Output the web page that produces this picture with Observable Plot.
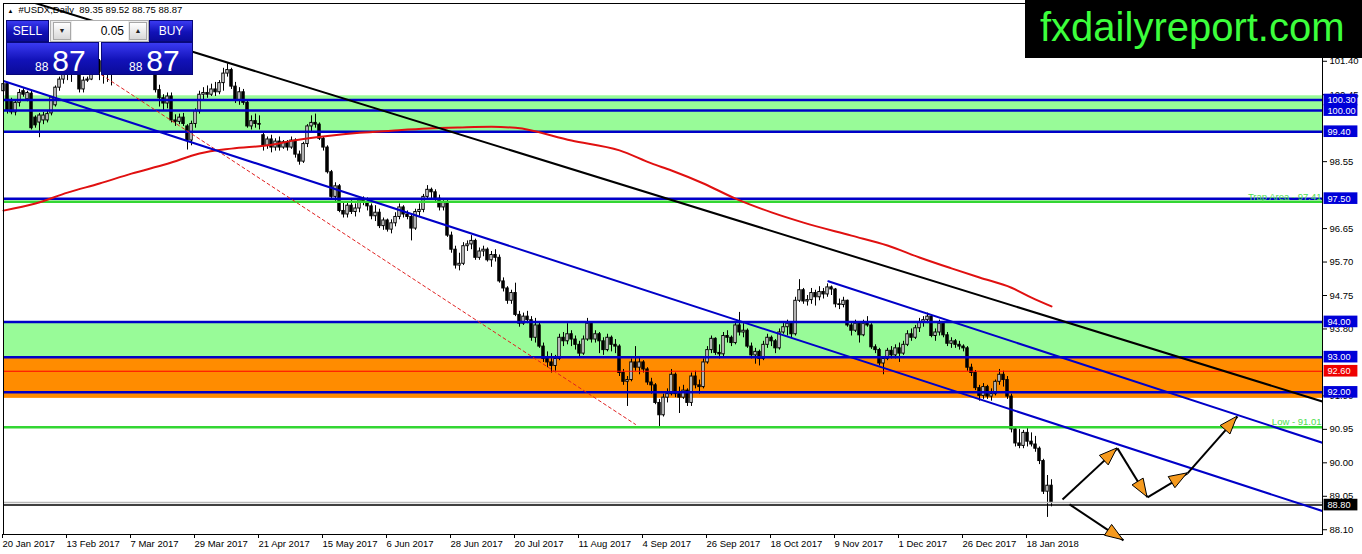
<!DOCTYPE html>
<html>
<head>
<meta charset="utf-8">
<script src="https://cdn.jsdelivr.net/npm/d3@7"></script>
<script src="https://cdn.jsdelivr.net/npm/@observablehq/plot@0.6"></script>
<style>
  body { margin: 0; background: #fff; }
  #wrap { position: relative; width: 1362px; height: 554px; overflow: hidden; font-family: "Liberation Sans", Arial, sans-serif; }
  .abs { position: absolute; box-sizing: border-box; }
  .blue { background: linear-gradient(#3a3af2, #1212b8 55%, #0a0a9a); color: #fff; border: 1px solid #08087a; }
  .btn { font-size: 12px; line-height: 20px; text-align: center; }
  .grey { background: linear-gradient(#ffffff, #d8d8d8); border: 1px solid #a8a8a8; font-size: 7px; line-height: 16px; text-align: center; color: #222; }
  .price { white-space: nowrap; line-height: 1; }
  .price .s { font-size: 12px; }
  .price .b { font-size: 30px; margin-left: 4px; }
  #logo { left: 1025px; top: 0; width: 337px; height: 58px; background: #000; color: #3cff3c; font-size: 40px; line-height: 54px; padding-left: 15px; }
</style>
</head>
<body>
<div id="wrap">
  <div id="chart"></div>
  <div class="abs blue btn" style="left:6px;top:20px;width:43px;height:22px;">SELL</div>
  <div class="abs" style="left:50px;top:20px;width:99px;height:22px;background:#ececec;border:1px solid #b0b0b0;"></div>
  <div class="abs grey" style="left:53px;top:22px;width:18px;height:18px;">&#9660;</div>
  <div class="abs" style="left:72px;top:21px;width:56px;height:20px;background:#fff;font-size:12px;line-height:20px;text-align:right;padding-right:4px;color:#000;">0.05</div>
  <div class="abs grey" style="left:129px;top:22px;width:18px;height:18px;">&#9650;</div>
  <div class="abs blue btn" style="left:149px;top:20px;width:44px;height:22px;">BUY</div>
  <div class="abs blue" style="left:6px;top:42px;width:93px;height:33px;">
    <div class="abs price" style="left:28px;bottom:-2px;"><span class="s">88</span><span class="b">87</span></div>
  </div>
  <div class="abs blue" style="left:101px;top:42px;width:92px;height:33px;">
    <div class="abs price" style="left:27px;bottom:-2px;"><span class="s">88</span><span class="b">87</span></div>
  </div>
  <div id="logo" class="abs">fxdailyreport.com</div>
</div>
<script>
// daily #USDX bars, index 0 = 20 Jan 2017 ... 262 = 26 Jan 2018 (weekends/holidays skipped)
const open = [
  100.55,100.75,100.25,99.95,100.22,100.55,100.32,100.48,99.80,99.66,
  99.72,99.72,99.92,100.15,100.65,100.88,101.05,101.20,101.25,101.28,
  100.60,100.85,100.88,101.45,101.40,101.10,101.12,101.15,101.10,101.75,
  101.85,101.35,101.75,101.95,102.05,102.15,101.30,101.35,101.70,100.58,
  100.35,100.20,100.40,99.72,99.68,99.80,99.55,99.15,99.62,99.98,
  100.45,100.50,100.45,100.60,100.52,100.78,101.05,101.15,100.68,100.28,
  100.52,100.22,99.55,99.70,99.62,99.30,99.00,99.18,98.95,99.12,
  98.95,99.10,98.95,99.15,98.75,98.55,99.05,99.55,99.65,99.60,
  99.20,98.95,98.25,97.55,97.85,97.15,97.05,97.30,97.12,97.22,
  97.45,97.40,97.28,97.00,97.10,96.72,96.88,96.62,96.80,96.98,
  97.25,97.05,96.98,96.65,97.12,97.18,97.55,97.75,97.68,97.50,
  97.25,97.38,96.45,96.05,95.60,95.65,96.15,96.20,96.30,95.82,
  96.00,96.05,95.75,95.90,95.82,95.15,94.95,94.60,94.82,94.20,
  93.95,94.15,94.05,93.55,93.90,93.30,92.95,92.85,92.75,92.95,
  93.55,93.45,93.65,93.50,93.35,93.10,93.50,93.95,93.50,93.65,
  93.45,93.20,93.55,93.35,93.30,92.55,92.30,92.35,92.85,92.70,
  92.85,92.65,92.28,92.20,91.70,91.35,91.85,91.95,92.50,91.95,
  91.85,92.05,91.70,92.45,92.20,92.15,92.85,93.20,93.52,93.12,
  93.08,93.60,93.55,93.40,93.90,93.70,93.75,93.30,93.05,93.15,
  92.95,93.35,93.55,93.45,93.25,93.70,93.85,93.95,93.65,94.60,
  94.90,94.58,94.62,94.82,94.70,94.85,94.78,94.98,94.92,94.50,
  94.48,94.60,93.90,93.75,93.95,93.62,93.95,93.90,93.28,93.20,
  92.82,92.95,93.18,93.05,93.25,93.10,93.35,93.65,93.55,93.82,
  93.98,94.05,94.15,93.60,93.70,93.95,93.62,93.38,93.45,93.35,
  93.30,93.25,92.70,92.55,92.12,91.90,92.15,91.88,91.95,92.30,
  92.50,92.35,91.88,90.95,90.55,90.48,90.85,90.60,90.52,90.40,
  90.05,89.18,89.35
];
const high = [
  100.95,100.80,100.35,100.30,100.60,100.62,100.55,100.55,99.85,99.92,
  99.95,100.00,100.40,100.70,100.95,101.15,101.30,101.45,101.75,101.32,
  100.95,100.95,101.55,101.75,101.45,101.25,101.30,101.35,101.85,102.25,
  102.05,101.80,102.00,102.25,102.25,102.20,101.45,101.75,101.75,100.72,
  100.45,100.50,100.50,99.88,99.90,99.92,99.60,99.70,100.05,100.55,
  100.65,100.70,100.75,100.80,100.85,101.20,101.33,101.20,100.80,100.65,
  100.60,100.30,99.85,99.90,99.85,99.35,99.25,99.30,99.20,99.25,
  99.15,99.15,99.25,99.20,98.85,99.10,99.60,99.85,99.90,99.65,
  99.25,99.00,98.30,97.95,97.90,97.40,97.40,97.45,97.35,97.55,
  97.55,97.52,97.35,97.30,97.20,96.95,96.92,96.90,97.10,97.35,
  97.30,97.15,97.05,97.20,97.35,97.62,97.87,97.80,97.75,97.60,
  97.50,97.45,96.55,96.15,95.95,96.25,96.30,96.45,96.35,96.10,
  96.15,96.10,96.00,96.05,95.90,95.25,95.00,94.90,95.10,94.30,
  94.25,94.30,94.15,94.10,94.00,93.40,93.15,93.10,93.05,93.65,
  93.70,93.95,93.75,93.60,93.45,93.60,94.10,94.00,93.75,93.70,
  93.55,93.65,93.60,93.50,93.35,92.65,92.45,92.95,93.30,93.00,
  92.90,92.70,92.40,92.25,91.80,91.95,92.10,92.65,92.55,92.15,
  92.20,92.10,92.55,92.60,92.35,92.95,93.30,93.60,93.55,93.35,
  93.70,93.75,93.60,94.00,94.27,93.95,93.80,93.40,93.25,93.20,
  93.45,93.65,93.60,93.50,93.80,94.00,94.05,94.00,94.70,95.20,
  94.95,94.75,94.95,94.90,95.00,94.95,95.08,95.02,94.95,94.65,
  94.70,94.62,94.00,94.05,93.98,94.05,94.15,93.95,93.35,93.25,
  93.00,93.25,93.30,93.35,93.40,93.45,93.75,93.80,93.90,94.10,
  94.15,94.25,94.20,93.80,94.05,94.00,93.70,93.55,93.50,93.45,
  93.35,93.30,92.80,92.62,92.20,92.25,92.20,92.10,92.35,92.65,
  92.60,92.45,91.95,91.00,90.95,90.92,91.02,90.85,90.75,90.45,
  90.10,89.64,89.52
];
const low = [
  100.40,99.90,99.88,99.85,100.10,100.38,100.25,99.45,99.50,99.23,
  99.60,99.65,99.85,100.10,100.55,100.75,100.85,100.80,101.10,100.50,
  100.50,100.80,100.85,101.20,100.85,100.75,100.80,100.70,101.05,101.60,
  101.30,101.20,101.55,101.85,101.90,101.20,101.05,101.25,100.50,100.10,
  100.00,100.05,99.65,99.55,99.60,99.55,98.88,99.00,99.50,99.90,
  100.30,100.35,100.40,100.40,100.45,100.55,100.95,100.60,100.20,100.15,
  100.15,99.50,99.45,99.50,99.45,98.85,98.90,98.80,98.85,98.85,
  98.90,98.85,98.90,98.65,98.45,98.50,98.95,99.40,99.50,99.15,
  98.85,98.20,97.50,97.40,97.10,96.95,96.95,97.05,96.98,97.10,
  97.30,97.15,96.90,96.85,96.65,96.60,96.55,96.50,96.70,96.90,
  96.95,96.90,96.30,96.60,97.00,97.10,97.45,97.50,97.40,97.15,
  97.15,96.40,95.95,95.50,95.45,95.60,96.00,96.05,95.75,95.75,
  95.85,95.70,95.55,95.70,95.10,94.85,94.50,94.50,94.15,93.85,
  93.90,93.95,93.45,93.40,93.25,92.85,92.70,92.55,92.60,92.90,
  93.30,93.35,93.30,93.20,93.00,93.05,93.45,93.40,93.40,93.10,
  93.05,93.15,93.15,93.10,92.45,92.20,91.60,92.30,92.60,92.50,
  92.55,92.20,91.95,91.65,91.01,91.30,91.70,91.90,91.85,91.40,
  91.80,91.60,91.60,92.10,91.95,92.10,92.80,93.10,93.05,92.95,
  93.00,93.40,93.30,93.35,93.60,93.55,93.25,92.95,92.80,92.75,
  92.90,93.25,93.30,93.10,93.20,93.65,93.60,93.55,93.60,94.55,
  94.50,94.45,94.50,94.45,94.60,94.65,94.70,94.75,94.40,94.35,
  94.40,93.85,93.60,93.70,93.40,93.58,93.85,93.22,93.10,92.75,
  92.50,92.90,92.95,92.95,92.85,93.05,93.30,93.45,93.50,93.70,
  93.85,93.95,93.55,93.45,93.60,93.55,93.30,93.25,93.25,93.20,
  93.15,92.60,92.45,92.05,91.75,91.80,91.80,91.75,91.90,92.20,
  92.15,91.80,90.85,90.45,90.40,90.40,90.45,90.45,90.30,89.95,
  89.10,88.45,88.75
];
const close = [
  100.75,100.00,99.95,100.22,100.50,100.45,100.50,99.50,99.58,99.86,
  99.86,99.90,100.37,100.65,100.88,101.05,101.20,101.25,101.28,100.60,
  100.85,100.88,101.45,101.40,101.10,101.12,101.15,101.10,101.75,101.85,
  101.35,101.75,101.95,102.05,102.15,101.30,101.35,101.70,100.58,100.35,
  100.20,100.40,99.72,99.68,99.80,99.62,99.15,99.62,99.98,100.45,
  100.50,100.45,100.60,100.52,100.78,101.05,101.15,100.68,100.28,100.52,
  100.22,99.55,99.70,99.62,99.60,99.00,99.18,98.95,99.12,98.95,
  99.10,98.95,99.15,98.75,98.55,99.05,99.55,99.65,99.60,99.20,
  98.95,98.25,97.55,97.85,97.15,97.05,97.30,97.12,97.22,97.45,
  97.40,97.28,97.00,97.10,96.72,96.88,96.62,96.80,96.98,97.25,
  97.05,96.98,96.65,97.12,97.18,97.55,97.75,97.68,97.50,97.25,
  97.38,96.45,96.05,95.60,95.65,96.15,96.20,96.30,95.82,96.00,
  96.05,95.75,95.90,95.82,95.15,94.95,94.60,94.82,94.20,93.95,
  94.15,94.05,93.55,93.90,93.30,92.95,92.85,92.75,92.95,93.55,
  93.45,93.65,93.50,93.35,93.10,93.50,93.95,93.50,93.65,93.45,
  93.20,93.55,93.35,93.30,92.55,92.30,92.35,92.85,92.70,92.85,
  92.65,92.28,92.20,91.70,91.35,91.85,91.95,92.50,91.95,91.85,
  92.05,91.70,92.45,92.20,92.15,92.85,93.20,93.52,93.12,93.08,
  93.60,93.55,93.40,93.90,93.70,93.75,93.30,93.05,93.15,92.95,
  93.35,93.55,93.45,93.25,93.70,93.85,93.95,93.65,94.60,94.90,
  94.58,94.62,94.82,94.70,94.85,94.78,94.98,94.92,94.50,94.48,
  94.60,93.90,93.75,93.95,93.62,93.95,93.90,93.28,93.20,92.82,
  92.95,93.18,93.05,93.25,93.10,93.35,93.65,93.55,93.82,93.98,
  94.05,94.15,93.60,93.70,93.95,93.62,93.38,93.45,93.35,93.30,
  93.25,92.70,92.55,92.12,91.90,92.15,91.88,91.95,92.30,92.50,
  92.35,91.88,90.95,90.55,90.48,90.85,90.60,90.52,90.40,90.05,
  89.18,89.35,88.87
];

// time axis labels (bar index of each label)
const xTickIdx = [0, 16, 32, 48, 64, 80, 96, 112, 128, 144, 160, 176, 192, 208, 224, 240, 256];
const xTickLabels = ["20 Jan 2017", "13 Feb 2017", "7 Mar 2017", "29 Mar 2017", "21 Apr 2017", "15 May 2017",
  "6 Jun 2017", "28 Jun 2017", "20 Jul 2017", "11 Aug 2017", "4 Sep 2017", "26 Sep 2017", "18 Oct 2017",
  "9 Nov 2017", "1 Dec 2017", "26 Dec 2017", "18 Jan 2018"];
// price ticks that stay visible (the others sit under the level tags or the logo)
const yTicks = [101.40, 100.45, 98.55, 96.65, 95.70, 94.75, 93.80, 91.90, 90.95, 90.00, 89.05, 88.10];

// moving average
const maIdx = [0, 8, 16, 24, 32, 41, 49, 57, 67, 72, 81, 89, 97, 106, 114, 122, 128, 142, 154, 162, 167, 175, 183, 192, 200, 212, 221, 229, 237, 244, 252, 257, 262];
const maVal = [97.16, 97.36, 97.67, 97.93, 98.21, 98.49, 98.78, 98.92, 99.03, 99.14, 99.28, 99.37, 99.43, 99.49, 99.52, 99.54, 99.51, 99.15, 98.87, 98.50, 98.30, 97.93, 97.50, 97.11, 96.82, 96.45, 96.17, 95.83, 95.52, 95.26, 94.97, 94.69, 94.44];

// drawn objects
const greenZones = [[99.35, 100.42], [93.00, 94.00]];
const orangeZones = [[91.83, 93.00]];
const blueLevels = [100.30, 100.00, 99.40, 97.50, 94.00, 93.00, 92.00];
const greenLevels = [97.41, 91.01];
const greenTexts = ["Trap Area - 97.41", "Low - 91.01"];
const redLevel = [92.60];
const bidLevel = [88.87];
const markLevel = [88.80];
const blackTrend = [[6, 103.12], [329.75, 91.74]];
const blueTrend = [[0, 100.84], [329.75, 88.63]];
const blueTrend2 = [[206.2, 95.155], [329.75, 90.57]];
const redDashed = [[22, 101.20], [158, 91.09]];
const arrowPath = [[264.75, 88.96], [278.5, 90.41], [286, 89.02], [296, 89.70], [308.5, 91.31]];
const arrowDown = [[266.5, 88.82], [280, 87.80]];
const tagPrices = [100.30, 100.00, 99.40, 97.50, 94.00, 93.00, 92.60, 92.00, 88.80];
const tagColors = ["#0000d8", "#0000d8", "#0000d8", "#0000d8", "#0000d8", "#0000d8", "#ee0000", "#0000d8", "#000000"];
const header = "#USDX,Daily  89.35 89.52 88.75 88.87";

const bars = close.map((c, i) => ({i, open: open[i], high: high[i], low: low[i], close: c}));
const ma = maIdx.map((i, k) => ({i, p: maVal[k]}));
const arrows = arrowPath.slice(1).map((p, k) => ({a: arrowPath[k], b: p})).concat([{a: arrowDown[0], b: arrowDown[1]}]);
const tags = tagPrices.map((p, k) => ({p, c: tagColors[k]}));
const gTexts = greenLevels.map((p, k) => ({p, t: greenTexts[k]}));
const xr = 329.75;
const halfTag = 0.165;

const chart = Plot.plot({
  width: 1362,
  height: 554,
  marginLeft: 3,
  marginRight: 40,
  marginTop: 3,
  marginBottom: 20,
  x: {domain: [0, xr], axis: null},
  y: {domain: [87.965, 103.04], axis: null},
  color: {type: "identity"},
  style: {fontFamily: "Liberation Sans, Arial, sans-serif", fontSize: "9.5px", color: "black", background: "white", overflow: "visible"},
  marks: [
    Plot.rect(greenZones, {x1: 0, x2: xr, y1: d => d[0], y2: d => d[1], fill: "#98fb98"}),
    Plot.rect(orangeZones, {x1: 0, x2: xr, y1: d => d[0], y2: d => d[1], fill: "#ff8c00"}),
    Plot.ruleX(bars, {x: "i", y1: "low", y2: "high", stroke: "black", strokeWidth: 1}),
    Plot.rect(bars, {filter: d => d.close >= d.open, x1: d => d.i - 0.3, x2: d => d.i + 0.3, y1: "open", y2: "close", fill: "white", stroke: "black", strokeWidth: 1}),
    Plot.rect(bars, {filter: d => d.close < d.open, x1: d => d.i - 0.3, x2: d => d.i + 0.3, y1: "open", y2: "close", fill: "black", stroke: "black", strokeWidth: 1}),
    Plot.ruleY(greenLevels, {stroke: "#33d633", strokeWidth: 2.5}),
    Plot.ruleY(redLevel, {stroke: "#ff0000", strokeWidth: 1}),
    Plot.ruleY(bidLevel, {stroke: "#b8b8b8", strokeWidth: 1.5}),
    Plot.ruleY(markLevel, {stroke: "black", strokeWidth: 1.5}),
    Plot.ruleY(blueLevels, {stroke: "#0000c8", strokeWidth: 2.5}),
    Plot.line(ma, {x: "i", y: "p", curve: "monotone-x", stroke: "#e01010", strokeWidth: 2}),
    Plot.line(redDashed, {x: d => d[0], y: d => d[1], stroke: "#e02020", strokeWidth: 1, strokeDasharray: "3,3"}),
    Plot.line(blueTrend, {x: d => d[0], y: d => d[1], stroke: "#0000c8", strokeWidth: 2, clip: true}),
    Plot.line(blueTrend2, {x: d => d[0], y: d => d[1], stroke: "#0000c8", strokeWidth: 2, clip: true}),
    Plot.line(blackTrend, {x: d => d[0], y: d => d[1], stroke: "black", strokeWidth: 2, clip: true}),
    Plot.text(gTexts, {x: xr, y: "p", text: "t", textAnchor: "end", dx: -1, dy: -5, fill: "#4ee04e", fontSize: 9.5}),
    Plot.link(arrows, {x1: d => d.a[0], y1: d => d.a[1], x2: d => d.b[0], y2: d => d.b[1], stroke: "black", strokeWidth: 2}),
    Plot.frame({stroke: "black"}),
    Plot.axisY(yTicks, {anchor: "right", label: null, tickSize: 4, tickPadding: 3, tickFormat: d => d.toFixed(2), fontSize: 9.5}),
    Plot.axisX(xTickIdx, {anchor: "bottom", label: null, tickSize: 4, tickPadding: 2, tickFormat: d => xTickLabels[xTickIdx.indexOf(d)], textAnchor: "start", dx: -1, fontSize: 9.5}),
    Plot.rect(tags, {x1: 330.15, x2: 338.6, y1: d => d.p - halfTag, y2: d => d.p + halfTag, fill: "c"}),
    Plot.text(tags, {x: 331.0, y: "p", text: d => d.p.toFixed(2), textAnchor: "start", fill: "white", fontSize: 9.2}),
    Plot.text([header], {frameAnchor: "top-left", dx: 15, dy: 3, textAnchor: "start", fontSize: 9.5, fill: "black"}),
    Plot.text(["\u25B2"], {frameAnchor: "top-left", dx: 4, dy: 5, textAnchor: "start", fontSize: 6, fill: "black"})
  ]
});

document.getElementById("chart").append(chart);

// orange arrow heads at the end of each arrow
const sx = chart.scale("x"), sy = chart.scale("y");
const svg = d3.select(chart);
arrows.forEach(d => {
  const x1 = sx.apply(d.a[0]), y1 = sy.apply(d.a[1]);
  const x2 = sx.apply(d.b[0]), y2 = sy.apply(d.b[1]);
  const ang = Math.atan2(y2 - y1, x2 - x1);
  const L = 18, W = 6.5;
  const bx = x2 - L * Math.cos(ang), by = y2 - L * Math.sin(ang);
  const pts = [
    [x2, y2],
    [bx + W * Math.sin(ang), by - W * Math.cos(ang)],
    [bx - W * Math.sin(ang), by + W * Math.cos(ang)]
  ];
  svg.append("polygon")
    .attr("points", pts.map(p => p.join(",")).join(" "))
    .attr("fill", "#f59a1e")
    .attr("stroke", "black")
    .attr("stroke-width", 1);
});
</script>
</body>
</html>
